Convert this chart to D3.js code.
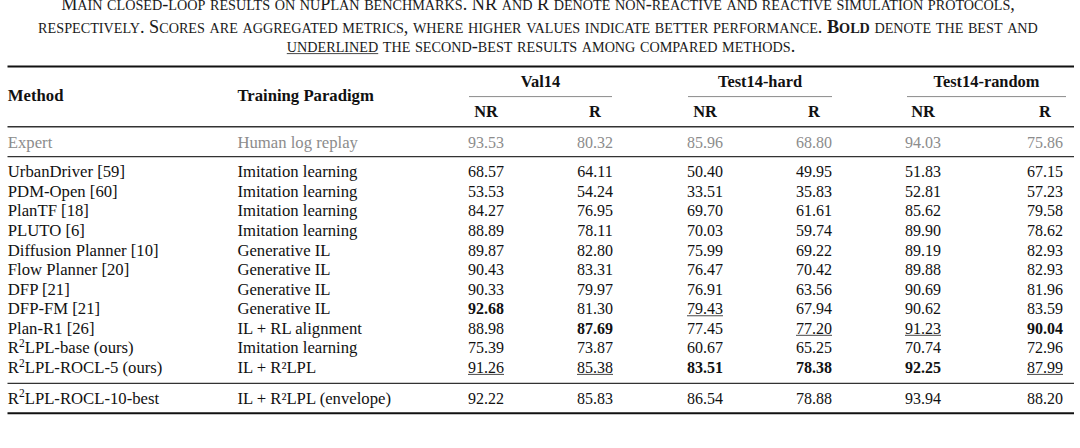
<!DOCTYPE html>
<html><head><meta charset="utf-8">
<script src="https://cdn.jsdelivr.net/npm/d3@7"></script>
<style>
html,body{margin:0;padding:0;background:#fff;}
svg{display:block;font-family:"Liberation Serif","Times New Roman",serif;}
</style>
</head><body>
<svg id="c" width="1080" height="448"></svg>
<script>
// ---------------- DATA ----------------
const captionLine1 = [{t:"Main closed-loop results on nuPlan benchmarks. NR and R denote non-reactive and reactive simulation protocols,"}];
const captionLine2 = [{t:"respectively. Scores are aggregated metrics, where higher values indicate better performance. "},{t:"Bold",b:true},{t:" denote the best and"}];
const captionLine3 = [{t:"underlined",u:true},{t:" the second-best results among compared methods."}];

const headerMethod = "Method";
const headerParadigm = "Training Paradigm";
const benchmarks = ["Val14","Test14-hard","Test14-random"];
const protocols = ["NR","R"];

const expertMethod = "Expert";
const expertParadigm = "Human log replay";
const expertScores = [93.53, 80.32, 85.96, 68.80, 94.03, 75.86];

const methods = ["UrbanDriver [59]","PDM-Open [60]","PlanTF [18]","PLUTO [6]","Diffusion Planner [10]",
  "Flow Planner [20]","DFP [21]","DFP-FM [21]","Plan-R1 [26]","R^2LPL-base (ours)","R^2LPL-ROCL-5 (ours)"];
const paradigms = ["Imitation learning","Imitation learning","Imitation learning","Imitation learning","Generative IL",
  "Generative IL","Generative IL","Generative IL","IL + RL alignment","Imitation learning","IL + R²LPL"];
const val14NR   = [68.57, 53.53, 84.27, 88.89, 89.87, 90.43, 90.33, 92.68, 88.98, 75.39, 91.26];
const val14R    = [64.11, 54.24, 76.95, 78.11, 82.80, 83.31, 79.97, 81.30, 87.69, 73.87, 85.38];
const hardNR    = [50.40, 33.51, 69.70, 70.03, 75.99, 76.47, 76.91, 79.43, 77.45, 60.67, 83.51];
const hardR     = [49.95, 35.83, 61.61, 59.74, 69.22, 70.42, 63.56, 67.94, 77.20, 65.25, 78.38];
const randomNR  = [51.83, 52.81, 85.62, 89.90, 89.19, 89.88, 90.69, 90.62, 91.23, 70.74, 92.25];
const randomR   = [67.15, 57.23, 79.58, 78.62, 82.93, 82.93, 81.96, 83.59, 90.04, 72.96, 87.99];

const envelopeMethod = "R^2LPL-ROCL-10-best";
const envelopeParadigm = "IL + R²LPL (envelope)";
const envelopeScores = [92.22, 85.83, 86.54, 78.88, 93.94, 88.20];

// ---------------- LAYOUT ----------------
const svg = d3.select("#c");
const W = 1080;
const FS = 16;      // numeric cells
const FT = 16.7;    // text columns
const fmt = d3.format(".2f");
const colKeys = ["v_NR","v_R","h_NR","h_R","r_NR","r_R"];
const colX = d3.scaleOrdinal().domain(colKeys).range([486, 595, 705, 814, 923, 1045]);
const groupSpan = d3.scaleOrdinal().domain(benchmarks).range([[469,612],[688,832],[907,1066]]);
const rowY = d3.scaleLinear().domain([0, methods.length - 1]).range([172, 367.4]);
const xMethod = 7.8, xParadigm = 237.4;
const ruleL = 7.5, ruleR = 1074;
const baseOff = 5.4;
const series = [val14NR, val14R, hardNR, hardR, randomNR, randomR];

// ---------------- CAPTION ----------------
const capG = svg.append("g");
function renderCaption(F){
  capG.selectAll("*").remove();
  const lines = [captionLine1, captionLine2, captionLine3];
  const baselines = [9.5, 32.8, 51.6];
  const els = [];
  lines.forEach((segs, li) => {
    const t = capG.append("text").attr("x", li === 2 ? 541 : 538).attr("y", baselines[li])
      .attr("text-anchor","middle").attr("fill","#1a1a1a").style("font-size", F+"px");
    let idx = 0; const ul = [];
    segs.forEach(seg => {
      const runs = seg.t.match(/([a-z]+)|([^a-z]+)/g);
      const start = idx;
      runs.forEach(r => {
        const lower = /^[a-z]+$/.test(r);
        t.append("tspan").text(lower ? r.toUpperCase() : r)
          .style("font-size", (lower ? F*0.78 : F) + "px")
          .style("font-weight", seg.b ? "bold" : "normal");
        idx += r.length;
      });
      if (seg.u) ul.push([start, idx-1]);
    });
    els.push({t, ul, base: baselines[li]});
  });
  return els;
}
let cap = renderCaption(16);
const L2 = cap[1].t.node().getComputedTextLength();
cap = renderCaption(16 * 1000 / L2);
cap.forEach(c => {
  c.ul.forEach(([a,b]) => {
    const n = c.t.node();
    const x0 = n.getStartPositionOfChar(a).x, x1 = n.getEndPositionOfChar(b).x;
    capG.append("line").attr("x1",x0).attr("x2",x1).attr("y1",c.base+2).attr("y2",c.base+2)
      .attr("stroke","#333").attr("stroke-width",0.9);
  });
});

// ---------------- RULES ----------------
function hrule(y, w, color){
  svg.append("line").attr("x1",ruleL).attr("x2",ruleR).attr("y1",y).attr("y2",y)
    .attr("stroke",color).attr("stroke-width",w);
}
hrule(66.6, 2, "#111");
hrule(126.7, 1.5, "#333");
hrule(156.7, 1.2, "#333");
hrule(383.3, 1.2, "#333");
hrule(413.3, 2, "#111");
benchmarks.forEach(b => {
  const [a,c] = groupSpan(b);
  svg.append("line").attr("x1",a).attr("x2",c).attr("y1",96.6).attr("y2",96.6)
    .attr("stroke","#8a8a8a").attr("stroke-width",1);
});

// ---------------- HEADERS ----------------
const hdr = svg.append("g").style("font-weight","bold").attr("fill","#111");
hdr.append("text").attr("x",xMethod).attr("y",101).style("font-size",FT+"px").text(headerMethod);
hdr.append("text").attr("x",xParadigm).attr("y",101).style("font-size",FT+"px").text(headerParadigm);
benchmarks.forEach(b => {
  const [a,c] = groupSpan(b);
  hdr.append("text").attr("x",(a+c)/2).attr("y",81.7+baseOff).attr("text-anchor","middle")
    .style("font-size",(FS+0.4)+"px").text(b);
});
colKeys.forEach((k,i) => {
  hdr.append("text").attr("x",colX(k)).attr("y",111.7+baseOff).attr("text-anchor","middle")
    .style("font-size",(FS+0.4)+"px").text(protocols[i%2]);
});

// ---------------- BODY ----------------
const body = svg.append("g");
function methodText(g, str, y, color){
  const t = g.append("text").attr("x",xMethod).attr("y",y).attr("fill",color).style("font-size",FT+"px");
  const parts = str.split("^2");
  if (parts.length === 1) { t.text(str); return; }
  t.append("tspan").text(parts[0]);
  t.append("tspan").text("2").attr("dy",-6.3).style("font-size","11.5px");
  t.append("tspan").text(parts[1]).attr("dy",6.3);
}
function paradigmText(g, str, y, color){
  g.append("text").attr("x",xParadigm).attr("y",y).attr("fill",color).style("font-size",FT+"px").text(str);
}
function cell(g, v, x, y, color, bold, under){
  const t = g.append("text").attr("x",x).attr("y",y).attr("text-anchor","middle")
    .attr("fill",color).style("font-size",FS+"px").style("font-weight", bold ? "bold" : "normal").text(fmt(v));
  if (under){
    const bb = t.node().getBBox();
    g.append("line").attr("x1",bb.x).attr("x2",bb.x+bb.width).attr("y1",y+1.6).attr("y2",y+1.6)
      .attr("stroke","#333").attr("stroke-width",0.9);
  }
}

// expert row
const ey = 142.3 + baseOff;
methodText(body, expertMethod, ey, "#8c8c8c");
paradigmText(body, expertParadigm, ey, "#8c8c8c");
expertScores.forEach((v,i) => cell(body, v, colX(colKeys[i]), ey, "#8c8c8c", false, false));

// compared rows with best / second-best ranking
const ranks = series.map(s => {
  const sorted = Array.from(new Set(s)).sort((a,b) => b-a);
  return {best: sorted[0], second: sorted[1]};
});
methods.forEach((m, r) => {
  const y = rowY(r) + baseOff;
  methodText(body, m, y, "#111");
  paradigmText(body, paradigms[r], y, "#111");
  series.forEach((s, ci) => {
    const v = s[r];
    cell(body, v, colX(colKeys[ci]), y, "#111", v === ranks[ci].best, v === ranks[ci].second);
  });
});

// envelope row
const vy = 398.3 + baseOff;
methodText(body, envelopeMethod, vy, "#111");
paradigmText(body, envelopeParadigm, vy, "#111");
envelopeScores.forEach((v,i) => cell(body, v, colX(colKeys[i]), vy, "#111", false, false));
</script>
</body></html>
